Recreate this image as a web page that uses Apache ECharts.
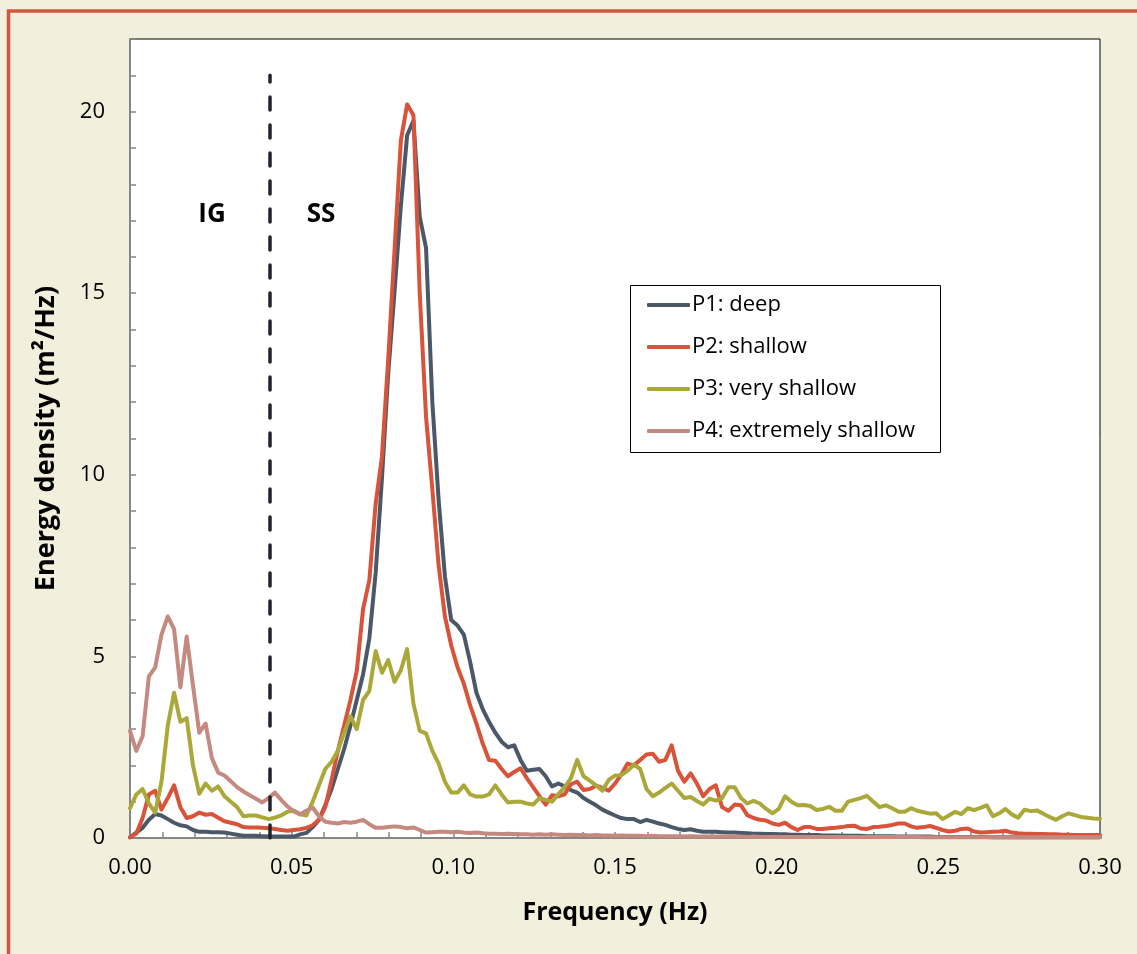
<!DOCTYPE html>
<html>
<head>
<meta charset="utf-8">
<script src="https://cdn.jsdelivr.net/npm/echarts@6/dist/echarts.min.js"></script>
<style>
  html, body { margin: 0; padding: 0; background: #F2F0DC; }
  #chart { width: 1137px; height: 954px; }
</style>
</head>
<body>
<div id="chart"></div>
<script>
// Frequency bins: 155 points from 0 to 0.30 Hz
const FREQ_MAX = 0.3;
const BIN_COUNT = 155;

const seriesNames = ['P1: deep', 'P2: shallow', 'P3: very shallow', 'P4: extremely shallow'];

// Energy density (m²/Hz) per frequency bin
const p1Deep = [
  0.02,0.15,0.28,0.5,0.66,0.62,0.52,0.42,0.35,0.32,
  0.22,0.17,0.17,0.16,0.16,0.15,0.12,0.09,0.06,0.06,
  0.06,0.05,0.04,0.04,0.04,0.04,0.04,0.1,0.14,0.3,
  0.5,0.9,1.35,1.9,2.45,3.1,3.8,4.5,5.5,7.3,
  9.9,12.8,15.05,17.4,19.35,19.75,17.1,16.25,12.0,9.3,
  7.2,6.0,5.85,5.6,4.85,4.0,3.55,3.2,2.9,2.65,
  2.5,2.55,2.15,1.85,1.88,1.9,1.7,1.42,1.5,1.42,
  1.32,1.25,1.1,1.0,0.9,0.78,0.7,0.62,0.55,0.52,
  0.52,0.44,0.5,0.45,0.4,0.36,0.3,0.25,0.22,0.24,
  0.2,0.17,0.17,0.17,0.16,0.15,0.15,0.14,0.13,
  0.12,0.12,0.11,0.11,0.10,0.10,0.09,0.09,0.08,0.08,
  0.08,0.07,0.07,0.07,0.06,0.06,0.06,0.06,0.05,0.05,
  0.05,0.05,0.05,0.04,0.04,0.04,0.04,0.04,0.04,0.03,
  0.03,0.03,0.03,0.03,0.03,0.03,0.03,0.03,0.02,0.02,
  0.02,0.02,0.02,0.02,0.02,0.02,0.02,0.02,0.02,0.02,
  0.02,0.02,0.02,0.02,0.02,0.02
];

const p2Shallow = [
  0.02,0.12,0.55,1.2,1.3,0.78,1.1,1.45,0.85,0.55,
  0.6,0.7,0.64,0.66,0.56,0.46,0.42,0.38,0.3,0.29,
  0.29,0.28,0.27,0.25,0.22,0.2,0.22,0.24,0.28,0.35,
  0.5,0.85,1.6,2.4,3.1,3.8,4.6,6.3,7.1,9.2,
  10.5,13.2,16.2,19.2,20.2,19.9,15.0,11.6,9.6,7.5,
  6.1,5.3,4.7,4.25,3.65,3.15,2.6,2.15,2.13,1.9,
  1.7,1.82,1.92,1.65,1.4,1.15,0.92,1.18,1.15,1.2,
  1.48,1.55,1.32,1.35,1.44,1.38,1.3,1.5,1.75,2.05,
  2.0,2.15,2.3,2.32,2.1,2.15,2.55,1.85,1.55,1.78,
  1.5,1.15,1.35,1.45,0.85,0.75,0.92,0.9,0.63,0.55,
  0.5,0.48,0.4,0.36,0.42,0.3,0.22,0.3,0.3,0.25,
  0.25,0.27,0.28,0.3,0.33,0.34,0.26,0.25,0.3,0.31,
  0.33,0.36,0.4,0.4,0.32,0.28,0.3,0.33,0.28,0.22,
  0.18,0.2,0.25,0.26,0.18,0.15,0.16,0.17,0.18,0.2,
  0.15,0.13,0.12,0.12,0.11,0.11,0.10,0.10,0.09,0.09,
  0.08,0.08,0.08,0.08,0.08
];

const p3VeryShallow = [
  0.82,1.2,1.35,0.95,0.7,1.55,3.1,4.0,3.2,3.3,
  2.0,1.22,1.5,1.3,1.42,1.15,1.0,0.85,0.6,0.62,
  0.62,0.57,0.52,0.56,0.62,0.72,0.76,0.66,0.62,1.0,
  1.45,1.9,2.1,2.4,2.9,3.35,3.0,3.8,4.05,5.15,
  4.55,4.9,4.3,4.62,5.2,3.7,2.95,2.88,2.4,2.05,
  1.55,1.25,1.25,1.45,1.2,1.14,1.14,1.2,1.45,1.2,
  0.98,1.0,1.0,0.95,0.92,1.1,1.05,1.0,1.2,1.4,
  1.65,2.15,1.7,1.58,1.45,1.3,1.6,1.72,1.73,1.85,
  2.02,1.9,1.35,1.15,1.25,1.38,1.5,1.3,1.1,1.13,
  1.02,0.92,1.08,1.03,1.1,1.4,1.4,1.1,0.95,1.02,
  0.95,0.8,0.68,0.8,1.15,1.0,0.9,0.91,0.88,0.77,
  0.8,0.86,0.75,0.75,1.0,1.05,1.1,1.16,1.0,0.85,
  0.9,0.82,0.72,0.72,0.82,0.75,0.71,0.67,0.68,0.52,
  0.62,0.72,0.66,0.82,0.77,0.83,0.9,0.6,0.68,0.8,
  0.65,0.56,0.78,0.74,0.76,0.67,0.58,0.5,0.6,0.68,
  0.63,0.58,0.56,0.54,0.53
];

const p4ExtremelyShallow = [
  2.95,2.4,2.8,4.45,4.7,5.6,6.1,5.75,4.15,5.55,
  4.2,2.9,3.15,2.2,1.8,1.72,1.56,1.4,1.28,1.18,
  1.08,0.98,1.1,1.25,1.05,0.87,0.73,0.65,0.75,0.84,
  0.6,0.45,0.42,0.4,0.44,0.42,0.45,0.5,0.38,0.28,
  0.28,0.3,0.32,0.3,0.27,0.29,0.22,0.15,0.16,0.17,
  0.17,0.16,0.17,0.15,0.14,0.15,0.13,0.12,0.12,0.11,
  0.12,0.11,0.10,0.10,0.09,0.10,
  0.09,0.10,0.09,0.08,0.09,0.08,0.08,0.07,0.08,0.07,
  0.07,0.06,0.07,0.06,0.06,0.06,0.05,0.06,0.05,0.05,
  0.05,0.05,0.04,0.05,0.04,0.04,0.04,0.04,0.04,0.04,
  0.04,0.04,0.03,0.04,0.03,0.03,0.03,0.03,0.03,0.03,
  0.03,0.03,0.03,0.03,0.03,0.03,0.03,0.03,0.03,0.03,
  0.03,0.03,0.03,0.03,0.03,0.03,0.03,0.03,0.03,0.03,
  0.02,0.02,0.02,0.02,0.02,0.02,0.02,0.02,0.02,0.02,
  0.02,0.02,0.02,0.02,0.02,0.02,0.02,0.02,0.02,0.02,
  0.02,0.02,0.02,0.02,0.02,0.02,0.02,0.02,0.02
];

// Boundary between infragravity (IG) and sea-swell (SS) bands
const bandBoundaryHz = 0.0433;
const bandBoundaryTop = 21;
const bandLabels = ['IG', 'SS'];

const seriesColors = ['#4A5868', '#D8533A', '#ABA83A', '#C4897F'];
const FONT = '"Open Sans", Lato, sans-serif';

const freqs = Array.from({ length: BIN_COUNT }, (_, i) => i * FREQ_MAX / (BIN_COUNT - 1));
const toPairs = vals => vals.map((v, i) => [freqs[i], v]);
const seriesValues = [p1Deep, p2Shallow, p3VeryShallow, p4ExtremelyShallow];

const chart = echarts.init(document.getElementById('chart'), null, { renderer: 'canvas' });

const lineSeries = seriesValues.map((vals, k) => ({
  name: seriesNames[k],
  type: 'line',
  data: toPairs(vals),
  symbol: 'none',
  smooth: false,
  z: 3 + k,
  lineStyle: { color: seriesColors[k], width: 4, join: 'round', cap: 'round' },
  itemStyle: { color: seriesColors[k] },
  emphasis: { disabled: true }
}));

lineSeries.push({
  name: 'boundary',
  type: 'line',
  data: [[bandBoundaryHz, 0], [bandBoundaryHz, bandBoundaryTop]],
  symbol: 'none',
  z: 8,
  lineStyle: { color: '#22222E', width: 3.5, type: [13, 15], cap: 'round' },
  emphasis: { disabled: true },
  silent: true
});

chart.setOption({
  backgroundColor: '#F2F0DC',
  animation: false,
  grid: {
    left: 130, right: 37, top: 39, bottom: 116,
    show: true, backgroundColor: '#FFFFFF', borderColor: '#000000', borderWidth: 1
  },
  xAxis: {
    type: 'value',
    min: 0, max: FREQ_MAX, interval: 0.01,
    name: 'Frequency (Hz)',
    nameLocation: 'middle',
    nameGap: 62,
    nameTextStyle: { fontFamily: FONT, fontSize: 25, fontWeight: 'bold', color: '#000' },
    axisLine: { show: true, lineStyle: { color: '#868686', width: 2 } },
    axisTick: { show: true, inside: true, length: 6, lineStyle: { color: '#868686', width: 1.5 } },
    axisLabel: {
      fontFamily: FONT, fontSize: 22, color: '#000', margin: 19,
      formatter: v => (Math.round(v * 100) % 5 === 0 ? v.toFixed(2) : '')
    },
    splitLine: { show: false }
  },
  yAxis: {
    type: 'value',
    min: 0, max: 22, interval: 1,
    name: 'Energy density (m²/Hz)',
    nameLocation: 'middle',
    nameRotate: 90,
    nameGap: 70,
    nameTextStyle: { fontFamily: FONT, fontSize: 27, fontWeight: 'bold', color: '#000' },
    axisLine: { show: true, lineStyle: { color: '#868686', width: 2 } },
    axisTick: { show: true, inside: true, length: 6, lineStyle: { color: '#868686', width: 1.5 } },
    axisLabel: {
      fontFamily: FONT, fontSize: 22, color: '#000', margin: 25,
      formatter: v => (v % 5 === 0 ? String(v) : '')
    },
    splitLine: { show: false }
  },
  legend: {
    data: seriesNames,
    orient: 'vertical',
    left: 647, top: 294,
    z: 10,
    icon: 'roundRect',
    itemWidth: 43, itemHeight: 4, itemGap: 20,
    padding: 0,
    textStyle: { fontFamily: FONT, fontSize: 22, color: '#000', lineHeight: 22, padding: [0, 0, 0, -3] },
    selectedMode: false
  },
  graphic: [
    {
      type: 'rect', z: -10, silent: true,
      shape: { x: 8.5, y: 11, width: 1300, height: 1100 },
      style: { fill: 'none', stroke: '#D4553B', lineWidth: 3.5 }
    },
    {
      type: 'rect', z: 5, silent: true,
      shape: { x: 630.5, y: 285.5, width: 310, height: 167 },
      style: { fill: '#FFFFFF', stroke: '#000000', lineWidth: 1 }
    },
    {
      type: 'text', z: 6, silent: true, x: 212, y: 215,
      style: { text: bandLabels[0], font: 'bold 26px ' + FONT, fill: '#000', align: 'center', verticalAlign: 'middle' }
    },
    {
      type: 'text', z: 6, silent: true, x: 321, y: 215,
      style: { text: bandLabels[1], font: 'bold 26px ' + FONT, fill: '#000', align: 'center', verticalAlign: 'middle' }
    }
  ],
  series: lineSeries
});
</script>
</body>
</html>
